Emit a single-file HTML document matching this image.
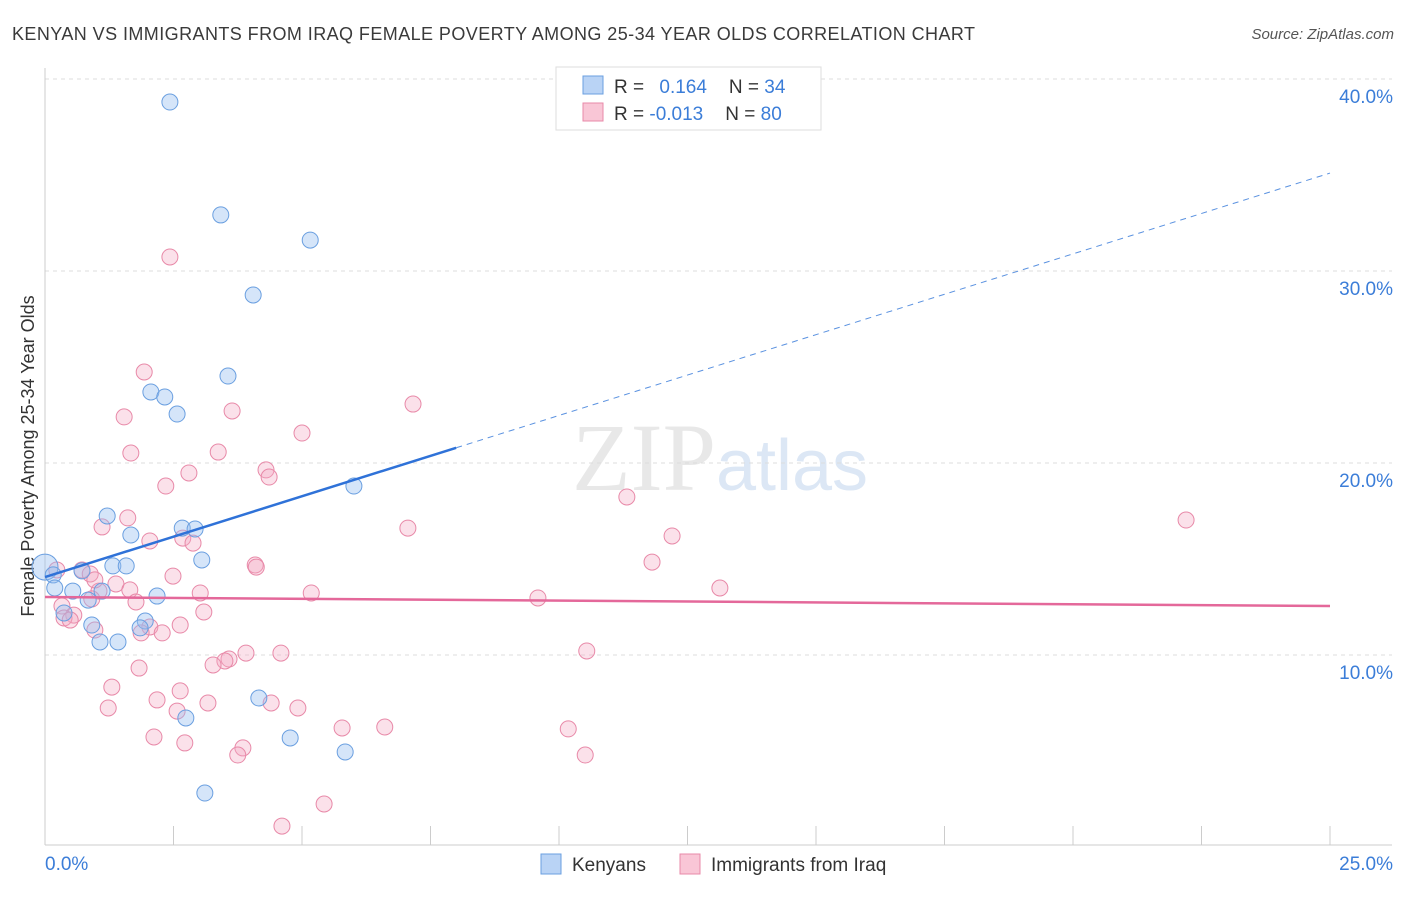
<!DOCTYPE html>
<html><head><meta charset="utf-8"><style>
body{margin:0;background:#fff;font-family:"Liberation Sans",sans-serif}
</style></head><body>
<svg id="c" width="1406" height="892" xmlns="http://www.w3.org/2000/svg" font-family="Liberation Sans, sans-serif">
<text x="12" y="40" font-size="18" fill="#3a3a3a" textLength="963" lengthAdjust="spacing">KENYAN VS IMMIGRANTS FROM IRAQ FEMALE POVERTY AMONG 25-34 YEAR OLDS CORRELATION CHART</text>
<text x="1394" y="39" font-size="15" fill="#555" text-anchor="end" font-style="italic">Source: ZipAtlas.com</text>
<text x="720" y="490" font-size="96" text-anchor="middle" fill="#e8e8e8" font-family="Liberation Serif, serif">ZIP<tspan fill="#dce7f5" font-family="Liberation Sans, sans-serif" font-size="72">atlas</tspan></text>
<text transform="translate(34,456) rotate(-90)" font-size="18" fill="#333" text-anchor="middle">Female Poverty Among 25-34 Year Olds</text>
<g id="grid"></g><g id="ticks"></g><g id="pts"></g><g id="lines"></g>
<g>
<rect x="556" y="67" width="265" height="63" fill="#fff" stroke="#ddd"/>
<rect x="583" y="76" width="20" height="18" fill="#b9d3f5" stroke="#6a9fe0"/>
<rect x="583" y="103" width="20" height="18" fill="#f9c6d6" stroke="#e889a8"/>
<text x="614" y="93" font-size="19" fill="#333">R = <tspan fill="#3b7dd8" dx="10">0.164</tspan><tspan dx="22">N = </tspan><tspan fill="#3b7dd8">34</tspan></text>
<text x="614" y="120" font-size="19" fill="#333">R = <tspan fill="#3b7dd8">-0.013</tspan><tspan dx="22">N = </tspan><tspan fill="#3b7dd8">80</tspan></text>
</g>
<g>
<rect x="541" y="854" width="20" height="20" fill="#b9d3f5" stroke="#6a9fe0"/>
<text x="572" y="871" font-size="19" fill="#333">Kenyans</text>
<rect x="680" y="854" width="20" height="20" fill="#f9c6d6" stroke="#e889a8"/>
<text x="711" y="871" font-size="19" fill="#333">Immigrants from Iraq</text>
</g>
</svg>
<script>
const yTicks=[10,20,30,40];
const yTickLabels=["10.0%","20.0%","30.0%","40.0%"];
const xTickLabels=["0.0%","25.0%"];
const blueX=[2.43,3.42,5.16,4.05,3.56,2.06,2.33,2.57,6.01,1.21,2.67,2.92,1.67,3.05,1.32,1.58,0,0.16,0.72,0.19,0.54,1.11,2.18,0.84,0.37,1.95,0.91,1.85,1.07,1.42,4.16,2.74,4.77,5.84,3.11];
const blueY=[38.8,32.92,31.61,28.75,24.53,23.7,23.44,22.55,18.8,17.24,16.61,16.56,16.25,14.95,14.64,14.64,14.58,14.17,14.38,13.49,13.33,13.33,13.07,12.86,12.19,11.77,11.56,11.41,10.68,10.68,7.76,6.72,5.68,4.95,2.81];
const pinkX=[2.43,1.93,1.54,3.64,7.16,5,1.67,3.37,2.8,4.3,4.36,2.35,11.32,22.2,1.11,1.61,7.06,12.2,2.04,2.68,2.88,0.23,0.72,0.88,11.81,4.09,4.11,2.49,1.38,1.05,1.65,3.02,5.18,13.13,9.59,0.91,1.77,0.33,3.09,0.56,0.37,2.04,2.63,0.97,1.87,2.28,10.54,3.91,4.59,3.58,3.5,3.27,1.83,1.3,2.63,2.18,3.17,4.4,4.92,2.57,1.23,5.78,6.61,10.18,2.12,2.72,3.85,3.75,10.51,5.43,4.61,0.97,0.49];
const pinkY=[30.73,24.74,22.4,22.71,23.07,21.56,20.52,20.57,19.48,19.64,19.27,18.8,18.23,17.03,16.67,17.14,16.61,16.2,15.94,16.09,15.83,14.43,14.43,14.22,14.84,14.69,14.58,14.11,13.7,13.33,13.39,13.23,13.23,13.49,12.97,12.92,12.76,12.55,12.24,12.08,11.93,11.46,11.56,11.3,11.15,11.15,10.21,10.1,10.1,9.79,9.69,9.48,9.32,8.33,8.13,7.66,7.5,7.5,7.24,7.08,7.24,6.2,6.25,6.15,5.73,5.42,5.16,4.79,4.79,2.24,1.09,13.91,11.82];
const blueTrend=[14.06,35.1];const blueSolidEnd=8.0;
const pinkTrend=[13.02,12.55];
const NS="http://www.w3.org/2000/svg";
const X=v=>45+v*51.4, Y=v=>847-v*19.2;
function mk(p,t,a){const e=document.createElementNS(NS,t);for(const k in a)e.setAttribute(k,a[k]);document.getElementById(p).appendChild(e);return e;}
yTicks.forEach((t,i)=>{
 const g=mk('grid','line',{x1:45,x2:1392,y1:Y(t),y2:Y(t),stroke:'#ddd','stroke-dasharray':'4,4'});
 
 
 const l=mk('ticks','text',{x:1393,y:Y(t)+24,'font-size':19,fill:'#3b7dd8','text-anchor':'end'});l.textContent=yTickLabels[i];
 
 
});
const ax=mk('ticks','line',{x1:45,x2:45,y1:68,y2:845,stroke:'#ccc'});


const bx=mk('ticks','line',{x1:45,x2:1392,y1:845,y2:845,stroke:'#ccc'});


for(let i=0;i<=10;i++){const t=mk('ticks','line',{x1:X(i*2.5),x2:X(i*2.5),y1:826,y2:845,stroke:'#ccc'});
 
 }
const xl0=mk('ticks','text',{x:45,y:870,'font-size':19,fill:'#3b7dd8'});xl0.textContent=xTickLabels[0];


const xl1=mk('ticks','text',{x:1393,y:870,'font-size':19,fill:'#3b7dd8','text-anchor':'end'});xl1.textContent=xTickLabels[1];


pinkX.forEach((x,i)=>{const c=mk('pts','circle',{cx:X(x),cy:Y(pinkY[i]),r:8,fill:'rgba(244,170,196,0.35)',stroke:'#e889a8','stroke-width':1});
 
 });
blueX.forEach((x,i)=>{const c=mk('pts','circle',{cx:X(x),cy:Y(blueY[i]),r:i==16?13:8,fill:'rgba(150,190,240,0.4)',stroke:'#6a9fe0','stroke-width':1});
 
 });
const by=x=>blueTrend[0]+(blueTrend[1]-blueTrend[0])*x/25;
const b1=mk('lines','line',{x1:X(0),y1:Y(by(0)),x2:X(blueSolidEnd),y2:Y(by(blueSolidEnd)),stroke:'#2f72d8','stroke-width':2.5});


const b2=mk('lines','line',{x1:X(blueSolidEnd),y1:Y(by(blueSolidEnd)),x2:X(25),y2:Y(by(25)),stroke:'#5b92e0','stroke-width':1,'stroke-dasharray':'6,5'});


const p1=mk('lines','line',{x1:X(0),y1:Y(pinkTrend[0]),x2:X(25),y2:Y(pinkTrend[1]),stroke:'#e4689a','stroke-width':2.5});


</script>
</body></html>
